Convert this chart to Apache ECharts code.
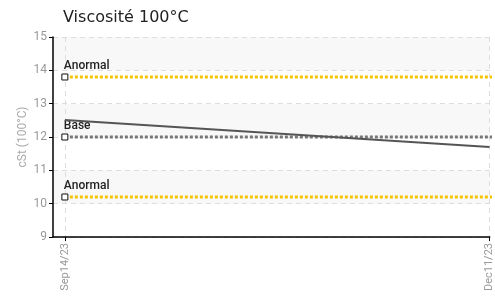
<!DOCTYPE html>
<html>
<head>
<meta charset="utf-8">
<script src="https://cdn.jsdelivr.net/npm/echarts@6/dist/echarts.min.js"></script>
<style>html,body{margin:0;padding:0;background:#fff}#c{width:495px;height:298px}</style>
</head>
<body>
<div id="c"></div>
<script>
// ---- data ----
const titleText = 'Viscosité 100°C';
const yAxisName = 'cSt (100°C)';
const sampleDates = ['2023-09-14', '2023-12-11'];
const viscosity = [12.51, 11.70];
const tickDates = ['2023-09-14', '2023-12-11'];
const tickLabels = ['Sep14/23', 'Dec11/23'];
const refDates = ['2023-09-14', '2024-01-31'];
const anormalHigh = [13.8, 13.8];
const baseLine = [12.0, 12.0];
const anormalLow = [10.2, 10.2];
const yMin = 9, yMax = 15, yInterval = 1;

// ---- helpers: x is days since first sample ----
const DAY = 86400000;
const t0 = Date.parse(sampleDates[0] + 'T00:00:00Z');
const dayOf = d => Math.round((Date.parse(d + 'T00:00:00Z') - t0) / DAY);
const tickDays = tickDates.map(dayOf);
const xMin = -2.46;
const xMax = dayOf('2023-12-11') + 0.05;
const labelMap = {};
tickDays.forEach((d, i) => { labelMap[d] = tickLabels[i]; });

const FONT = 'Roboto';

function refSeries(name, dates, vals, color) {
  return {
    name: name,
    type: 'line',
    symbol: 'none',
    showSymbol: true,
    silent: true,
    z: 3,
    lineStyle: { color: color, width: 3, type: [3, 2] },
    data: dates.map((d, i) => i === 0 ? {
      value: [dayOf(d), vals[i]],
      symbol: 'rect',
      symbolSize: 6,
      itemStyle: { color: '#fff', borderColor: '#111', borderWidth: 1 },
      label: {
        show: true, formatter: name, position: 'top', align: 'left',
        distance: 2, offset: [-1, 0],
        fontFamily: FONT, fontSize: 12, fontWeight: 500, color: '#222'
      }
    } : { value: [dayOf(d), vals[i]], symbol: 'none' })
  };
}

const chart = echarts.init(document.getElementById('c'), null, { renderer: 'canvas' });
chart.setOption({
  animation: false,
  backgroundColor: '#fff',
  title: {
    text: titleText, left: 58, top: 5,
    textStyle: { fontFamily: 'DejaVu Sans', fontSize: 16, fontWeight: 'normal', color: '#222' }
  },
  grid: { left: 53, top: 37, right: 0, bottom: 61, containLabel: false },
  xAxis: {
    type: 'value', min: xMin, max: xMax,
    axisLine: { onZero: false, lineStyle: { color: '#000', width: 1.5 } },
    axisTick: { show: true, customValues: tickDays, length: 4, lineStyle: { color: '#000' } },
    axisLabel: {
      customValues: tickDays, rotate: 90, margin: 6,
      formatter: v => labelMap[Math.round(v)] || '',
      fontFamily: FONT, fontSize: 11, color: '#999'
    },
    splitLine: { show: true, lineStyle: { color: '#ddd', type: [5, 4] } }
  },
  yAxis: {
    type: 'value', min: yMin, max: yMax, interval: yInterval,
    name: yAxisName, nameLocation: 'middle', nameGap: 24, nameMoveOverlap: false,
    nameTextStyle: { fontFamily: FONT, fontSize: 12, color: '#aaa' },
    axisLine: { show: true, onZero: false, lineStyle: { color: '#000', width: 1.5 } },
    axisTick: { show: true, length: 4, lineStyle: { color: '#000' } },
    axisLabel: { margin: 6, fontFamily: FONT, fontSize: 12, color: '#999' },
    splitLine: { show: true, lineStyle: { color: '#ddd', type: [5, 4] } },
    splitArea: { show: true, areaStyle: { color: ['#fff', '#f8f8f8'] } }
  },
  series: [
    refSeries('Anormal', refDates, anormalHigh, '#f5c400'),
    refSeries('Base', refDates, baseLine, '#777'),
    refSeries('Anormal', refDates, anormalLow, '#f5c400'),
    {
      name: 'Viscosité', type: 'line', symbol: 'none', z: 4,
      lineStyle: { color: '#555', width: 2.2 },
      data: sampleDates.map((d, i) => [dayOf(d), viscosity[i]])
    }
  ]
});
</script>
</body>
</html>
